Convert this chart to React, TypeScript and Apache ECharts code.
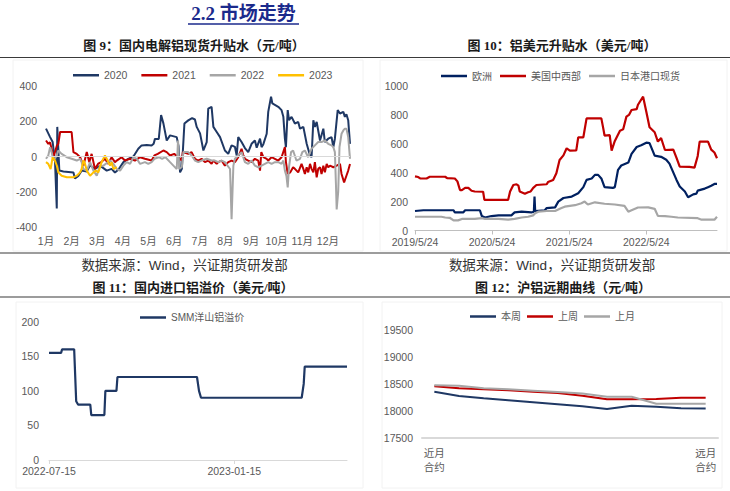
import React, { useEffect, useRef } from 'react';
import * as echarts from 'echarts';

const SANS = '"Liberation Sans", "Noto Sans CJK SC", sans-serif';
const SERIF_BOLD = '"Liberation Serif", "Noto Sans CJK SC", serif';

// ---- Chart 9: domestic spot premium (x = month offset from Jan 1)
const monthLabels = ['1月', '2月', '3月', '4月', '5月', '6月', '7月', '8月', '9月', '10月', '11月', '12月'];
const s2020: [number, number][] = [[0,158],[0.16,110],[0.26,82],[0.35,-23],[0.42,-295],[0.44,168],[0.52,-80],[0.68,-85],[1.07,-91],[1.13,-125],[1.26,-110],[1.39,-80],[1.59,-85],[1.72,-50],[1.91,-71],[2.11,-52],[2.37,-80],[2.56,-70],[2.69,-91],[2.82,-75],[3.02,-32],[3.21,-13],[3.41,0],[3.6,44],[3.73,63],[3.93,65],[4.12,62],[4.2,72],[4.25,100],[4.4,100],[4.49,235],[4.58,188],[4.71,91],[4.84,120],[5.1,110],[5.17,60],[5.23,-90],[5.3,-70],[5.4,187],[5.55,205],[5.7,218],[5.81,210],[5.88,168],[6.01,131],[6.14,34],[6.27,82],[6.33,272],[6.46,282],[6.53,168],[6.66,139],[6.79,110],[6.98,34],[7.11,15],[7.24,63],[7.37,55],[7.44,6],[7.5,110],[7.63,82],[7.76,48],[7.89,25],[8.02,72],[8.15,91],[8.22,50],[8.35,101],[8.41,53],[8.48,70],[8.61,129],[8.67,253],[8.78,340],[8.83,301],[9.06,282],[9.19,263],[9.26,225],[9.32,101],[9.36,53],[9.43,263],[9.48,206],[9.58,225],[9.71,187],[9.84,196],[9.91,158],[10.04,168],[10.17,72],[10.3,6],[10.36,-4],[10.43,206],[10.49,168],[10.56,196],[10.69,91],[10.82,158],[10.88,82],[11.01,101],[11.14,110],[11.21,53],[11.27,101],[11.38,263],[11.47,244],[11.6,253],[11.66,225],[11.72,240],[11.79,206],[11.86,72]];
const s2021: [number, number][] = [[0,91],[0.09,72],[0.16,80],[0.29,-4],[0.42,60],[0.48,72],[0.55,139],[1.0,139],[1.07,25],[1.2,15],[1.33,-4],[1.46,-52],[1.59,25],[1.69,-32],[1.78,15],[1.91,-71],[2.04,-40],[2.17,-30],[2.3,-13],[2.43,-42],[2.56,-4],[2.69,-32],[2.76,-23],[2.95,-4],[3.08,-23],[3.28,-13],[3.47,-23],[3.67,-4],[3.86,-13],[4.12,-23],[4.23,6],[4.36,15],[4.58,34],[4.71,25],[4.84,6],[5.0,15],[5.17,-4],[5.3,-23],[5.34,25],[5.55,15],[5.68,25],[5.81,-13],[5.94,-23],[6.07,-13],[6.2,-32],[6.33,-23],[6.46,-42],[6.53,-23],[6.66,-42],[6.72,-32],[6.85,-23],[6.98,-52],[7.11,-32],[7.24,-23],[7.37,-32],[7.5,-4],[7.63,44],[7.7,6],[7.76,-13],[7.89,-23],[8.02,-32],[8.15,-13],[8.28,-23],[8.35,-80],[8.4,25],[8.48,-4],[8.61,-13],[8.67,-23],[8.8,-4],[8.93,-13],[9.06,-23],[9.19,-4],[9.32,53],[9.36,-30],[9.43,-99],[9.53,-90],[9.64,-61],[9.71,-70],[9.84,-90],[9.97,-42],[10.04,-70],[10.1,-99],[10.17,-61],[10.23,-90],[10.3,-42],[10.36,-70],[10.43,-90],[10.49,-32],[10.56,-118],[10.62,-70],[10.69,-61],[10.75,-99],[10.82,-52],[10.88,-90],[10.95,-42],[11.01,-61],[11.08,-52],[11.21,-61],[11.34,-52],[11.47,-42],[11.53,-99],[11.63,-147],[11.72,-109],[11.79,-80],[11.86,-42]];
const s2022: [number, number][] = [[0,-13],[0.09,6],[0.16,53],[0.22,25],[0.29,-23],[0.42,6],[0.48,34],[0.61,15],[0.81,-4],[1.0,-13],[1.2,-23],[1.33,-13],[1.39,-32],[1.46,-71],[1.59,-80],[1.72,-32],[1.85,-80],[1.98,-109],[2.11,-52],[2.24,-52],[2.5,-23],[2.63,-42],[2.76,-71],[2.89,-80],[3.02,-52],[3.15,-32],[3.28,-42],[3.41,-4],[3.54,-13],[3.67,-42],[3.86,-32],[3.99,-42],[4.12,-32],[4.23,-13],[4.4,-4],[4.53,-13],[4.66,-4],[4.84,-32],[4.97,-52],[5.1,-71],[5.15,91],[5.2,-71],[5.3,-60],[5.36,25],[5.55,25],[5.68,6],[5.81,-23],[5.94,-32],[6.07,-23],[6.27,-13],[6.46,-23],[6.59,-23],[6.72,-32],[6.85,-23],[6.98,-32],[7.18,-71],[7.24,-356],[7.31,-52],[7.37,-13],[7.5,6],[7.63,25],[7.76,-32],[7.89,-42],[8.02,-23],[8.15,-52],[8.28,-61],[8.41,-52],[8.54,-42],[8.67,-32],[8.8,-42],[8.93,-32],[9.06,-32],[9.19,-42],[9.26,-23],[9.32,-80],[9.38,-110],[9.43,-175],[9.48,-61],[9.56,25],[9.64,34],[9.77,-23],[9.91,-13],[10.0,25],[10.1,34],[10.23,-4],[10.36,44],[10.49,63],[10.62,82],[10.75,82],[10.88,91],[11.01,72],[11.14,63],[11.21,53],[11.27,25],[11.31,-150],[11.34,-300],[11.4,-200],[11.45,53],[11.53,129],[11.6,148],[11.66,158],[11.72,158],[11.79,110],[11.86,-13]];
const s2023: [number, number][] = [[0,-32],[0.09,-42],[0.18,-71],[0.26,-4],[0.35,-23],[0.42,-50],[0.48,-90],[0.61,-109],[0.81,-118],[1.07,-118],[1.2,-109],[1.33,-90],[1.39,-71],[1.46,-23],[1.52,-40],[1.59,-80],[1.72,-109],[1.85,-90],[1.95,-80],[2.04,-90],[2.17,-32],[2.3,6],[2.37,-13],[2.5,-52],[2.56,-32],[2.63,-71],[2.76,-60]];

// ---- Chart 10: USD premiums (x = months since 2019/5/24)
const dateLabels10 = ['2019/5/24', '2020/5/24', '2021/5/24', '2022/5/24'];
const europe: [number, number][] = [[0,135],[1.3,140],[6.0,140],[6.2,125],[7.5,125],[7.8,140],[10.1,140],[10.4,100],[10.9,90],[11.9,100],[13.0,105],[15.0,105],[15.5,125],[16.6,130],[18.1,125],[18.5,130],[18.6,235],[18.7,135],[20.2,140],[20.5,155],[21.8,160],[22.3,200],[23.1,225],[24.4,235],[25.4,258],[26.2,300],[26.7,350],[27.5,360],[28.0,385],[28.5,385],[29.0,360],[29.5,300],[30.8,295],[31.1,300],[31.6,420],[32.1,450],[33.2,470],[33.7,530],[34.5,578],[35.2,590],[36.0,608],[36.5,605],[37.3,518],[38.3,510],[39.1,490],[39.6,463],[40.7,350],[41.2,304],[42.0,270],[42.5,230],[43.3,250],[43.8,255],[44.0,276],[45.1,290],[45.6,300],[46.1,310],[46.6,322],[47.0,322]];
const usMidwest: [number, number][] = [[0,375],[0.5,370],[0.8,360],[1.8,360],[2.3,372],[4.7,372],[5.0,362],[6.2,360],[6.6,340],[7.0,280],[7.3,280],[7.8,295],[8.3,295],[8.8,275],[9.3,270],[10.6,268],[10.8,212],[14.5,212],[14.8,270],[15.3,315],[15.8,320],[16.1,310],[16.3,270],[17.1,255],[17.6,265],[18.0,270],[18.4,295],[18.9,315],[20.5,320],[20.7,335],[21.5,350],[22.0,396],[22.5,488],[23.1,520],[23.6,569],[24.1,553],[25.1,555],[25.4,645],[26.2,645],[26.7,776],[29.0,776],[29.3,707],[29.5,657],[30.3,660],[30.6,553],[31.1,620],[31.9,691],[32.4,700],[32.9,788],[33.3,800],[33.7,834],[34.5,840],[34.7,870],[35.5,926],[36.0,822],[36.5,714],[37.3,680],[37.8,615],[38.3,640],[38.9,557],[40.2,560],[40.7,502],[41.2,442],[42.7,440],[43.5,435],[44.0,516],[44.3,615],[45.6,615],[46.1,560],[46.6,540],[47.0,500]];
const japanPort: [number, number][] = [[0,95],[4.1,95],[4.7,90],[5.4,88],[6.0,70],[6.7,70],[7.3,80],[9.3,80],[10.4,85],[10.9,80],[13.0,80],[14.5,75],[15.5,80],[16.6,90],[17.6,95],[18.4,105],[18.7,120],[19.2,130],[20.5,135],[21.8,135],[22.8,155],[23.3,165],[24.9,175],[25.9,189],[26.4,200],[26.9,180],[28.0,195],[29.5,185],[31.1,180],[32.6,170],[33.2,130],[33.7,140],[34.7,159],[36.3,160],[37.3,150],[37.8,101],[38.9,100],[39.9,95],[40.9,90],[44.0,85],[44.6,75],[46.6,75],[47.0,95]];

// ---- Chart 11: Yangshan premium (x = days since 2022-07-15)
const dateLabels11: Record<number, string> = { 0: '2022-07-15', 184: '2023-01-15' };
const yangshan: [number, number][] = [[0,155],[12,155],[13,160],[25,160],[27,85],[29,80],[41,80],[42,65],[55,65],[56,100],[67,100],[68,120],[147,120],[149,100],[151,90],[251,90],[253,110],[254,135],[296,135]];

// ---- Chart 12: SHFE forward curve
const contracts12 = ['近月\n合约', '', '', '', '', '', '', '', '', '', '', '远月\n合约'];
const thisWeek = [18354, 18274, 18231, 18194, 18157, 18120, 18083, 18033, 18094, 18077, 18046, 18040];
const lastWeek = [18454, 18417, 18399, 18380, 18354, 18330, 18280, 18213, 18213, 18220, 18243, 18243];
const lastMonth = [18472, 18466, 18417, 18399, 18374, 18350, 18320, 18262, 18262, 18131, 18131, 18131];

const NAVY = '#1F3864';
const NAVY2 = '#002060';
const RED = '#C00000';
const GRAY = '#A6A6A6';
const YELLOW = '#FFC000';

const lab = { color: '#595959', fontSize: 10.5, fontFamily: SANS };
const plain = (v: number) => String(v);

function line(name: string, data: any, color: string, xi: number, width = 2) {
  return {
    name, type: 'line', xAxisIndex: xi, yAxisIndex: xi, data, symbol: 'none', silent: true,
    itemStyle: { color }, lineStyle: { color, width }, z: 3,
  };
}

function legend(data: string[], left: number, top: number, gap: number, fontSize: number) {
  return {
    data, left, top, icon: 'rect', itemWidth: 26, itemHeight: 2.5, itemGap: gap,
    selectedMode: false, padding: 0,
    textStyle: { color: '#595959', fontSize, fontFamily: SANS },
  };
}

function text(str: string, x: number, y: number, size: number, bold: boolean, fill = '#1a1a1a', family = SERIF_BOLD) {
  return {
    type: 'text', x, y, silent: true,
    style: { text: str, fill, fontSize: size, fontWeight: bold ? 'bold' : 'normal', fontFamily: family, textAlign: 'center', textVerticalAlign: 'middle' },
  };
}

function hline(x1: number, x2: number, y: number, stroke = '#3a3a3a', w = 1.2) {
  return { type: 'line', silent: true, shape: { x1, y1: y, x2, y2: y }, style: { stroke, lineWidth: w } };
}

function box(x: number, y: number, w: number, h: number) {
  return { type: 'rect', silent: true, z: -1, shape: { x, y, width: w, height: h }, style: { fill: 'none', stroke: '#f2f2f2', lineWidth: 1 } };
}

const option: any = {
  animation: false,
  backgroundColor: '#ffffff',
  graphic: [
    box(13, 60, 350, 191),
    box(380, 60, 347, 191),
    box(16, 302, 347, 186),
    box(382, 302, 340, 186),
    text('2.2 市场走势', 243.5, 13, 19, true, '#1b2a8c'),
    hline(188, 299, 24, '#1b2a8c', 1.3),
    text('图 9：国内电解铝现货升贴水（元/吨）', 194, 45, 13, true),
    text('图 10：铝美元升贴水（美元/吨）', 562, 45, 13, true),
    hline(0, 730, 57.5),
    hline(0, 730, 253),
    text('数据来源：Wind，兴证期货研发部', 184.5, 265, 13.5, false, '#333333', SANS),
    text('数据来源：Wind，兴证期货研发部', 552, 265, 13.5, false, '#333333', SANS),
    text('图 11：国内进口铝溢价（美元/吨）', 193, 287, 13, true),
    text('图 12：沪铝远期曲线（元/吨）', 563, 287, 13, true),
    hline(0, 730, 297),
  ],
  legend: [
    legend(['2020', '2021', '2022', '2023'], 73, 70, 14, 10.5),
    legend(['欧洲', '美国中西部', '日本港口现货'], 441, 71, 8, 10),
    legend(['SMM洋山铝溢价'], 140, 312.5, 8, 10),
    legend(['本周', '上周', '上月'], 470, 311.5, 6, 10),
  ],
  grid: [
    { left: 46, top: 86, width: 304, height: 141 },
    { left: 415, top: 86, width: 302, height: 144.5 },
    { left: 49, top: 321.7, width: 298, height: 138.3 },
    { left: 422, top: 330, width: 296, height: 107.7 },
  ],
  xAxis: [
    {
      gridIndex: 0, type: 'value', min: 0, max: 11.86, interval: 1,
      axisLine: { show: false }, axisTick: { show: false }, splitLine: { show: false },
      axisLabel: { ...lab, margin: 9, showMaxLabel: false, formatter: (v: number) => monthLabels[Math.round(v)] ?? '' },
    },
    {
      gridIndex: 1, type: 'value', min: 0, max: 47, interval: 12,
      axisLine: { lineStyle: { color: '#bfbfbf' } }, axisTick: { show: true, length: 4, lineStyle: { color: '#bfbfbf' } },
      splitLine: { show: false },
      axisLabel: { ...lab, margin: 6, showMaxLabel: false, formatter: (v: number) => dateLabels10[Math.round(v / 12)] ?? '' },
    },
    {
      gridIndex: 2, type: 'value', min: 0, max: 296, interval: 184,
      axisLine: { lineStyle: { color: '#d9d9d9' } }, axisTick: { show: true, length: 4, lineStyle: { color: '#d9d9d9' } },
      splitLine: { show: false },
      axisLabel: { ...lab, margin: 6, showMaxLabel: false, formatter: (v: number) => dateLabels11[Math.round(v)] ?? '' },
    },
    {
      gridIndex: 3, type: 'category', data: contracts12, boundaryGap: true,
      axisLine: { lineStyle: { color: '#d9d9d9', width: 2 } }, axisTick: { show: false },
      axisLabel: { ...lab, fontSize: 10.5, margin: 8, interval: 0, lineHeight: 14 },
    },
  ],
  yAxis: [
    { gridIndex: 0, type: 'value', min: -400, max: 400, interval: 200, axisLine: { show: false }, axisTick: { show: false }, splitLine: { show: false }, axisLabel: { ...lab, margin: 9, formatter: plain } },
    { gridIndex: 1, type: 'value', min: 0, max: 1000, interval: 200, axisLine: { show: false }, axisTick: { show: false }, splitLine: { show: false }, axisLabel: { ...lab, margin: 7, formatter: plain } },
    { gridIndex: 2, type: 'value', min: 0, max: 200, interval: 50, axisLine: { show: false }, axisTick: { show: false }, splitLine: { show: false }, axisLabel: { ...lab, margin: 10, formatter: plain } },
    { gridIndex: 3, type: 'value', min: 17500, max: 19500, interval: 500, axisLine: { show: false }, axisTick: { show: false }, splitLine: { show: false }, axisLabel: { ...lab, margin: 9, formatter: plain } },
  ],
  series: [
    {
      name: 'zero', type: 'line', xAxisIndex: 0, yAxisIndex: 0, data: [], silent: true, z: 1,
      markLine: { silent: true, symbol: ['none', 'none'], label: { show: false }, lineStyle: { color: '#d9d9d9', width: 1, type: 'solid' }, data: [{ yAxis: 0 }] },
    },
    line('2020', s2020, NAVY, 0),
    line('2021', s2021, RED, 0),
    line('2022', s2022, GRAY, 0),
    line('2023', s2023, YELLOW, 0),
    line('欧洲', europe, NAVY2, 1, 2.2),
    line('美国中西部', usMidwest, RED, 1, 2.2),
    line('日本港口现货', japanPort, GRAY, 1, 2.2),
    line('SMM洋山铝溢价', yangshan, NAVY, 2, 2.2),
    line('本周', thisWeek, NAVY, 3, 2),
    line('上周', lastWeek, RED, 3, 2),
    line('上月', lastMonth, GRAY, 3, 2),
  ],
};

export default function App() {
  const ref = useRef<HTMLDivElement>(null);
  useEffect(() => {
    const chart = echarts.init(ref.current!, null, { renderer: 'svg' });
    chart.setOption(option);
    return () => chart.dispose();
  }, []);
  return <div ref={ref} style={{ position: 'absolute', left: 0, top: 0, width: 730, height: 491, background: '#fff' }} />;
}
